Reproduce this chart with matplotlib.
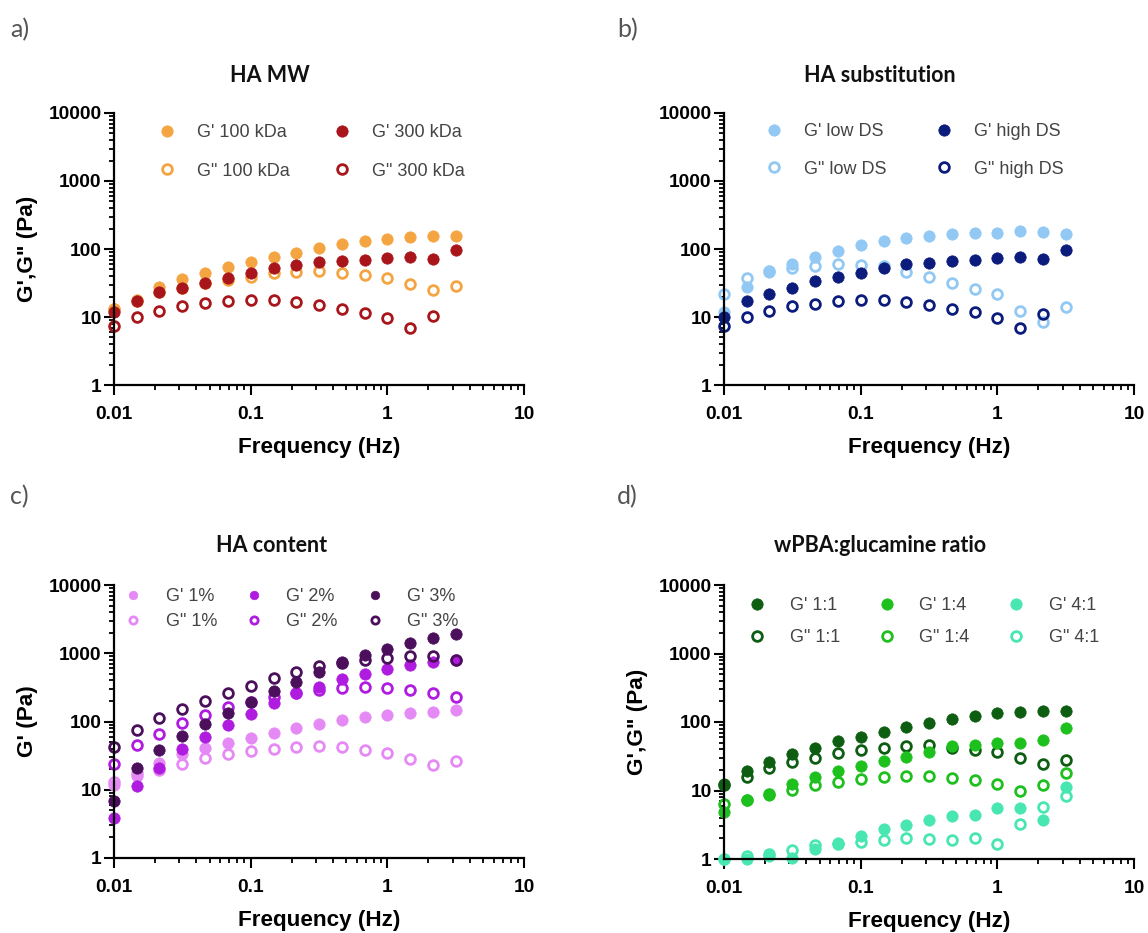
import matplotlib
matplotlib.use("Agg")
import matplotlib.pyplot as plt
import numpy as np
from matplotlib.ticker import FixedLocator, LogLocator, NullFormatter

plt.rcParams["font.family"] = ["Liberation Sans", "DejaVu Sans"]

W, H = 1148, 933
nan = np.nan

freq = [0.01, 0.0147, 0.0215, 0.0316, 0.0464, 0.0681, 0.1, 0.147,
        0.215, 0.316, 0.464, 0.681, 1.0, 1.47, 2.15, 3.16]

# a) HA MW
mw_g1_100 = [13, 18, 28, 36, 45, 54, 64, 77, 88, 105, 117, 130, 142, 150, 155, 157]
mw_g2_100 = [13, 17, 23, 27, 32, 35, 39, 44, 46, 47, 45, 42, 37, 31, 25, 29]
mw_g1_300 = [12, 17, 23, 27, 32, 37, 44, 52, 59, 64, 67, 70, 73, 75, 72, 97]
mw_g2_300 = [7.4, 10, 12.2, 14.4, 15.9, 17.2, 17.8, 17.8, 16.6, 15, 13.2, 11.6, 9.8, 7, 10.5, nan]

# b) HA substitution
ds_g1_low = [12, 28, 46, 60, 77, 94, 113, 130, 145, 157, 164, 172, 174, 184, 180, 168]
ds_g2_low = [22, 37, 48, 52, 57, 60, 59, 56, 46, 39, 32, 25.5, 22, 12.2, 8.5, 13.8]
ds_g1_high = [10, 17, 22, 27, 34, 39, 45, 52, 60, 63, 67, 70, 74, 75, 72, 97]
ds_g2_high = [7.4, 10, 12.3, 14.4, 15.7, 17.2, 17.8, 17.8, 16.6, 15.2, 13.2, 11.7, 9.8, 7, 10.9, nan]

# c) HA content
c_g1_1 = [11.8, 16, 24.5, 33, 41, 49, 58, 68, 80, 91, 105, 116, 125, 133, 139, 145]
c_g2_1 = [13, 17.5, 19.6, 24, 29, 33, 37, 40, 42, 43.5, 42, 38, 34, 28, 23, 26.5]
c_g1_2 = [3.8, 11.2, 21, 40, 60, 89, 130, 185, 260, 325, 415, 500, 590, 675, 755, 800]
c_g2_2 = [24, 45.5, 66, 95, 125, 165, 195, 230, 265, 290, 310, 318, 310, 287, 260, 225]
c_g1_3 = [6.9, 21, 38, 62, 91, 132, 195, 280, 385, 540, 740, 930, 1140, 1400, 1660, 1900]
c_g2_3 = [43, 74, 112, 152, 200, 260, 335, 430, 525, 640, 710, 800, 850, 900, 900, 800]

# d) wPBA:glucamine ratio
d_g1_11 = [12.4, 19, 26.5, 34, 42, 52, 61, 72, 85, 98, 110, 124, 134, 141, 144, 146]
d_g2_11 = [12, 16, 21.6, 26, 30, 35, 39, 41.5, 45, 46, 42, 39, 36, 29.5, 24, 28]
d_g1_14 = [4.9, 7.3, 8.6, 12.4, 15.6, 19.4, 23, 27, 31, 37, 45, 46, 50, 50, 55, 81]
d_g2_14 = [6.3, 7.3, 8.8, 10.2, 12, 13.5, 14.8, 16, 16.3, 16.3, 15.3, 14, 12.4, 10, 12, 18.3]
d_g1_41 = [1.0, 1.0, 1.1, 1.05, 1.4, 1.7, 2.2, 2.7, 3.1, 3.7, 4.3, 4.4, 5.5, 5.5, 3.7, 11.4]
d_g2_41 = [1.0, 1.1, 1.2, 1.37, 1.6, 1.67, 1.8, 1.9, 2.0, 1.95, 1.9, 2.0, 1.67, 3.2, 5.8, 8.4]

xticks = [0.01, 0.1, 1, 10]
xtick_labels = ["0.01", "0.1", "1", "10"]
yticks = [1, 10, 100, 1000, 10000]
ytick_labels = ["1", "10", "100", "1000", "10000"]

fig = plt.figure(figsize=(W / 100, H / 100), dpi=100)


def px_axes(x0, x1, y0, y1):
    return fig.add_axes([x0 / W, 1 - y1 / H, (x1 - x0) / W, (y1 - y0) / H])


def style_axes(ax, ylabel):
    ax.set_xscale("log")
    ax.set_yscale("log")
    ax.set_xlim(0.01, 10)
    ax.set_ylim(1, 10000)
    for side in ("top", "right"):
        ax.spines[side].set_visible(False)
    for side in ("left", "bottom"):
        ax.spines[side].set_linewidth(1.6)
    ax.xaxis.set_major_locator(FixedLocator(xticks))
    ax.set_xticklabels(xtick_labels)
    ax.yaxis.set_major_locator(FixedLocator(yticks))
    ax.set_yticklabels(ytick_labels)
    for axis in (ax.xaxis, ax.yaxis):
        axis.set_minor_locator(LogLocator(base=10, subs=range(2, 10), numticks=20))
        axis.set_minor_formatter(NullFormatter())
    ax.tick_params(which="major", direction="out", length=7, width=1.5,
                   labelsize=13.8)
    ax.tick_params(which="minor", direction="out", length=3.5, width=1.3)
    ax.tick_params(axis="x", pad=8)
    ax.tick_params(axis="y", pad=2)
    for lab in ax.get_xticklabels() + ax.get_yticklabels():
        lab.set_fontweight("bold")
    ax.set_xlabel("Frequency (Hz)", fontsize=16.2, fontweight="bold")
    ax.set_ylabel(ylabel, fontsize=16.2, fontweight="bold")
    ax.xaxis.set_label_coords(0.5, -0.19)
    ax.yaxis.set_label_coords(-0.185, 0.5)
    ax.patch.set_alpha(0)


def series(ax, y, color, filled, label):
    if filled:
        h, = ax.plot(freq, y, "o", ms=8.2, mfc=color, mec=color, mew=0.5,
                     ls="none", label=label, clip_on=False)
    else:
        h, = ax.plot(freq, y, "o", ms=7.0, mfc="none", mec=color, mew=2.0,
                     ls="none", label=label, clip_on=False)
    return h


def legend(ax, handles, ncol, x, y, textpad, colspace, rowspace, mscale=1.0):
    leg = ax.legend(handles=handles, ncol=ncol, loc="upper left",
                    bbox_to_anchor=(x / W, 1 - y / H),
                    bbox_transform=fig.transFigure, frameon=False,
                    fontsize=13, handlelength=1.0, handletextpad=textpad,
                    columnspacing=colspace, labelspacing=rowspace,
                    borderpad=0, borderaxespad=0, markerscale=mscale)
    for t in leg.get_texts():
        t.set_color("#444444")


title_kw = dict(fontsize=15.5, fontweight="bold", family=["Lato", "DejaVu Sans"],
                ha="center", va="center", color="#111111")
tag_kw = dict(fontsize=18, family=["Lato", "DejaVu Sans"], ha="left",
              va="center", color="#555555")

# a) HA MW
a_light, a_dark = "#F5A442", "#A8151B"
ax = px_axes(114, 524, 113, 385)
style_axes(ax, "G',G\" (Pa)")
h1 = series(ax, mw_g1_100, a_light, True, "G' 100 kDa")
h2 = series(ax, mw_g2_100, a_light, False, "G\" 100 kDa")
h3 = series(ax, mw_g1_300, a_dark, True, "G' 300 kDa")
h4 = series(ax, mw_g2_300, a_dark, False, "G\" 300 kDa")
legend(ax, [h1, h2, h3, h4], 2, 158, 124, 1.15, 2.4, 1.2)
fig.text(270 / W, 1 - 75 / H, "HA MW", **title_kw)
fig.text(10 / W, 1 - 30 / H, "a)", **tag_kw)

# b) HA substitution
b_light, b_dark = "#92C9F4", "#0B1C7C"
ax = px_axes(724, 1134, 113, 385)
style_axes(ax, "")
h1 = series(ax, ds_g1_low, b_light, True, "G' low DS")
h2 = series(ax, ds_g2_low, b_light, False, "G\" low DS")
h3 = series(ax, ds_g1_high, b_dark, True, "G' high DS")
h4 = series(ax, ds_g2_high, b_dark, False, "G\" high DS")
legend(ax, [h1, h2, h3, h4], 2, 765, 123, 1.15, 2.7, 1.15)
fig.text(880 / W, 1 - 75 / H, "HA substitution", **title_kw)
fig.text(617 / W, 1 - 30 / H, "b)", **tag_kw)

# c) HA content
c_light, c_mid, c_dark = "#E58AF5", "#B01CDF", "#4B0F5C"
ax = px_axes(114, 524, 585, 858)
style_axes(ax, "G' (Pa)")
hs = [series(ax, c_g1_1, c_light, True, "G' 1%"),
      series(ax, c_g2_1, c_light, False, "G\" 1%"),
      series(ax, c_g1_2, c_mid, True, "G' 2%"),
      series(ax, c_g2_2, c_mid, False, "G\" 2%"),
      series(ax, c_g1_3, c_dark, True, "G' 3%"),
      series(ax, c_g2_3, c_dark, False, "G\" 3%")]
legend(ax, hs, 3, 124, 588, 1.3, 1.55, 0.45, mscale=0.75)
fig.text(272 / W, 1 - 546 / H, "HA content", **title_kw)
fig.text(10 / W, 1 - 497 / H, "c)", **tag_kw)

# d) wPBA:glucamine ratio
d_dark, d_mid, d_light = "#0E5E12", "#1EC01E", "#48E6B0"
ax = px_axes(724, 1134, 585, 859)
style_axes(ax, "G',G\" (Pa)")
hs = [series(ax, d_g1_11, d_dark, True, "G' 1:1"),
      series(ax, d_g2_11, d_dark, False, "G\" 1:1"),
      series(ax, d_g1_14, d_mid, True, "G' 1:4"),
      series(ax, d_g2_14, d_mid, False, "G\" 1:4"),
      series(ax, d_g1_41, d_light, True, "G' 4:1"),
      series(ax, d_g2_41, d_light, False, "G\" 4:1")]
legend(ax, hs, 3, 748, 597, 1.3, 2.1, 0.85)
fig.text(880 / W, 1 - 546 / H, "wPBA:glucamine ratio", **title_kw)
fig.text(617 / W, 1 - 497 / H, "d)", **tag_kw)

fig.savefig("out.png", dpi=100)
